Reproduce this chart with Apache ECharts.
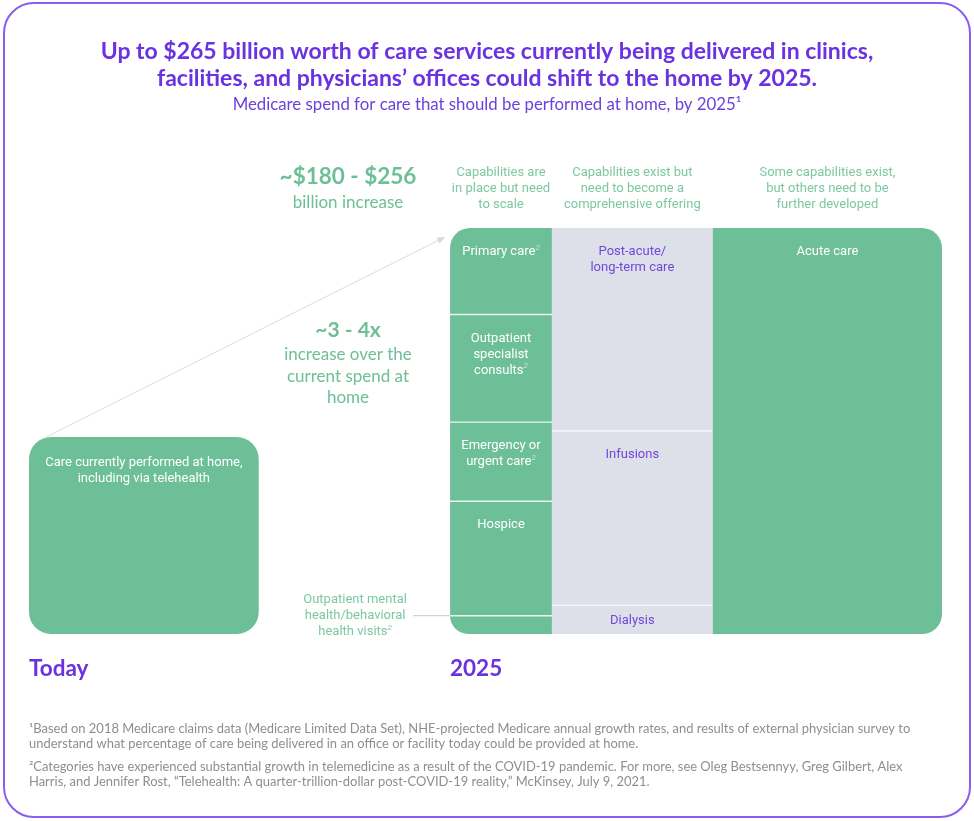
<!DOCTYPE html>
<html><head><meta charset="utf-8">
<script src="https://cdn.jsdelivr.net/npm/echarts@6/dist/echarts.min.js"></script>
<style>html,body{margin:0;padding:0;background:#fff}#c{width:974px;height:821px}</style>
</head><body><div id="c"></div>
<script>
// ---------- data ----------
const columnHeaders = [
  'Capabilities are\nin place but need\nto scale',
  'Capabilities exist but\nneed to become a\ncomprehensive offering',
  'Some capabilities exist,\nbut others need to be\nfurther developed'
];
// share of 2025 block width per capability column (%)
const columnShare = [20.7, 32.7, 46.6];
// column 1 segments (share of column height, top to bottom, %)
const col1Labels = ['Primary care', 'Outpatient\nspecialist\nconsults', 'Emergency or\nurgent care', 'Hospice', 'Outpatient mental\nhealth/behavioral\nhealth visits'];
const col1Notes = [true, true, true, false, true];
const col1Share = [21.3, 26.5, 19.5, 28.2, 4.5];
// column 2 segments
const col2Labels = ['Post-acute/\nlong-term care', 'Infusions', 'Dialysis'];
const col2Notes = [false, false, false];
const col2Share = [50.0, 42.9, 7.1];
// column 3 segments
const col3Labels = ['Acute care'];
const col3Notes = [false];
const col3Share = [100];
// today's spend relative to the 2025 block
const todayLabel = 'Care currently performed at home,\nincluding via telehealth';
const todayWidth = 46.7;
const todayHeight = 48.5;

// ---------- styles ----------
const GREEN = '#6DBF97', GRAY = '#DDE0E9', PURPLE = '#6A32E0', CELLPURPLE = '#7346DA', LIGHTGREEN = '#7DC8A3';
const X_MIN = -85.6;
const BODY = 'Roboto, "Noto Sans", sans-serif';
const HEAD = 'Lato, "Noto Sans", sans-serif';

// ---------- build blocks ----------
const columns = [
  {labels: col1Labels, share: col1Share, notes: col1Notes, fill: GREEN},
  {labels: col2Labels, share: col2Share, notes: col2Notes, fill: GRAY},
  {labels: col3Labels, share: col3Share, notes: col3Notes, fill: GREEN}
];
const blocks = [];
const headers = [];
let cx = 0;
columns.forEach((col, ci) => {
  const x0 = cx, x1 = cx + columnShare[ci];
  headers.push({x0, x1, text: columnHeaders[ci]});
  let top = 100;
  col.share.forEach((s, si) => {
    blocks.push({
      x0, x1, y1: top, y0: top - s, label: col.labels[si], note: col.notes[si],
      col: ci, seg: si, last: si === col.share.length - 1, fill: col.fill,
      external: ci === 0 && si === col.share.length - 1
    });
    top -= s;
  });
  cx = x1;
});
blocks.push({x0: X_MIN, x1: X_MIN + todayWidth, y0: 0, y1: todayHeight, label: todayLabel, note: false, today: true, fill: GREEN});

function richLabel(label, note) {
  return '{t|' + label + '}' + (note ? '{s|2}' : '');
}

function renderBlock(params, api) {
  const it = blocks[params.dataIndex];
  const p0 = api.coord([it.x0, it.y1]);
  const p1 = api.coord([it.x1, it.y0]);
  const x = p0[0], y = p0[1], w = p1[0] - p0[0], h = p1[1] - p0[1];
  const R = 20;
  let r = [0, 0, 0, 0];
  if (it.today) r = [22, 22, 22, 22];
  else {
    if (it.col === 0 && it.seg === 0) r[0] = R;
    if (it.col === 0 && it.last) r[3] = R;
    if (it.col === 2 && it.seg === 0) r[1] = R;
    if (it.col === 2 && it.last) r[2] = R;
  }
  const children = [{type: 'rect', shape: {x, y, width: w, height: h, r}, style: {fill: it.fill}}];
  if (!it.today && it.seg > 0) {
    children.push({type: 'line', shape: {x1: x, y1: y, x2: x + w, y2: y},
      style: {stroke: it.col === 1 ? 'rgba(255,255,255,0.75)' : 'rgba(255,255,255,0.85)', lineWidth: 1.3}});
  }
  const isGray = it.col === 1;
  const rich = {
    t: {fontSize: 13, lineHeight: 16, fontFamily: BODY, fill: isGray ? CELLPURPLE : '#FFFFFF'},
    s: {fontSize: 8, lineHeight: 16, fontFamily: BODY, fontStyle: 'italic', verticalAlign: 'top', fill: 'rgba(255,255,255,0.6)'}
  };
  if (it.external) {
    const rx = {
      t: {fontSize: 13, lineHeight: 16, fontFamily: BODY, fill: LIGHTGREEN},
      s: {fontSize: 8, lineHeight: 16, fontFamily: BODY, fontStyle: 'italic', verticalAlign: 'top', fill: LIGHTGREEN}
    };
    children.push({type: 'line', shape: {x1: x - 37, y1: y, x2: x, y2: y}, style: {stroke: '#C9C4DE', lineWidth: 1}});
    children.push({type: 'text', style: {text: richLabel(it.label, it.note), x: x - 95, y: y, align: 'center', verticalAlign: 'middle', rich: rx}});
  } else if (h < 40) {
    children.push({type: 'text', style: {text: richLabel(it.label, it.note), x: x + w / 2, y: y + h / 2 + 1, align: 'center', verticalAlign: 'middle', rich}});
  } else {
    children.push({type: 'text', style: {text: richLabel(it.label, it.note), x: x + w / 2, y: y + (it.today ? 18 : 16), align: 'center', verticalAlign: 'top', rich}});
  }
  if (it.today) {
    const s = [x + 17, y];
    const e0 = api.coord([0, 100]);
    const e = [e0[0] - 5, e0[1] + 9];
    const dx = e[0] - s[0], dy = e[1] - s[1], L = Math.sqrt(dx * dx + dy * dy);
    const ux = dx / L, uy = dy / L;
    const bx = e[0] - ux * 8, by = e[1] - uy * 8;
    children.push({type: 'line', shape: {x1: s[0], y1: s[1], x2: bx, y2: by}, style: {stroke: '#DADADA', lineWidth: 1}});
    children.push({type: 'polygon', shape: {points: [e, [bx - uy * 3.5, by + ux * 3.5], [bx + uy * 3.5, by - ux * 3.5]]}, style: {fill: '#DADADA'}});
  }
  return {type: 'group', children};
}

function renderHeader(params, api) {
  const hd = headers[params.dataIndex];
  const a = api.coord([hd.x0, 100]), b = api.coord([hd.x1, 100]);
  return {type: 'text', style: {text: hd.text, x: (a[0] + b[0]) / 2, y: a[1] - 63, align: 'center', verticalAlign: 'top',
    fontSize: 13, lineHeight: 16, fontFamily: BODY, fill: LIGHTGREEN}};
}

const chart = echarts.init(document.getElementById('c'), null, {renderer: 'canvas'});
chart.setOption({
  animation: false,
  grid: {left: 29, right: 32, top: 228, bottom: 187},
  xAxis: {type: 'value', min: X_MIN, max: 100, show: false},
  yAxis: {type: 'value', min: 0, max: 100, show: false},
  series: [
    {type: 'custom', renderItem: renderBlock, data: blocks.map((b, i) => [b.x0, b.y0, i]), clip: false, silent: true},
    {type: 'custom', renderItem: renderHeader, data: headers.map((h, i) => [h.x0, 100, i]), clip: false, silent: true}
  ],
  graphic: [
    {type: 'rect', shape: {x: 4, y: 3, width: 966, height: 814, r: 30}, style: {fill: 'none', stroke: '#8A5CF0', lineWidth: 2}},
    {type: 'text', style: {text: 'Up to $265 billion worth of care services currently being delivered in clinics,\nfacilities, and physicians\u2019 offices could shift to the home by 2025.',
      x: 487, y: 65.5, align: 'center', verticalAlign: 'middle', fontSize: 23, fontWeight: 'bold', lineHeight: 27, fontFamily: HEAD, fill: PURPLE}},
    {type: 'text', style: {text: 'Medicare spend for care that should be performed at home, by 2025\u00B9',
      x: 487, y: 105, align: 'center', verticalAlign: 'middle', fontSize: 16.8, fontFamily: HEAD, fill: '#6C40DC'}},
    {type: 'text', style: {text: '~$180 - $256', x: 348, y: 177, align: 'center', verticalAlign: 'middle', fontSize: 22.5, fontWeight: 'bold', fontFamily: HEAD, fill: GREEN}},
    {type: 'text', style: {text: 'billion increase', x: 348, y: 203, align: 'center', verticalAlign: 'middle', fontSize: 17, fontFamily: HEAD, fill: GREEN}},
    {type: 'text', style: {text: '~3 - 4x', x: 348, y: 330, align: 'center', verticalAlign: 'middle', fontSize: 21, fontWeight: 'bold', fontFamily: HEAD, fill: GREEN}},
    {type: 'text', style: {text: 'increase over the\ncurrent spend at\nhome', x: 348, y: 376.5, align: 'center', verticalAlign: 'middle', fontSize: 17, lineHeight: 21.5, fontFamily: HEAD, fill: GREEN}},
    {type: 'text', style: {text: 'Today', x: 29, y: 669, align: 'left', verticalAlign: 'middle', fontSize: 22.5, fontWeight: 'bold', fontFamily: HEAD, fill: PURPLE}},
    {type: 'text', style: {text: '2025', x: 450, y: 669, align: 'left', verticalAlign: 'middle', fontSize: 22.5, fontWeight: 'bold', fontFamily: HEAD, fill: PURPLE}},
    {type: 'text', style: {text: '\u00B9Based on 2018 Medicare claims data (Medicare Limited Data Set), NHE-projected Medicare annual growth rates, and results of external physician survey to\nunderstand what percentage of care being delivered in an office or facility today could be provided at home.',
      x: 29, y: 721, align: 'left', verticalAlign: 'top', fontSize: 12.95, lineHeight: 15.5, fontFamily: HEAD, fill: '#8E8E8E'}},
    {type: 'text', style: {text: '\u00B2Categories have experienced substantial growth in telemedicine as a result of the COVID-19 pandemic. For more, see Oleg Bestsennyy, Greg Gilbert, Alex\nHarris, and Jennifer Rost, \u201CTelehealth: A quarter-trillion-dollar post-COVID-19 reality,\u201D McKinsey, July 9, 2021.',
      x: 29, y: 759, align: 'left', verticalAlign: 'top', fontSize: 12.95, lineHeight: 15.5, fontFamily: HEAD, fill: '#8E8E8E'}}
  ]
});
</script></body></html>
